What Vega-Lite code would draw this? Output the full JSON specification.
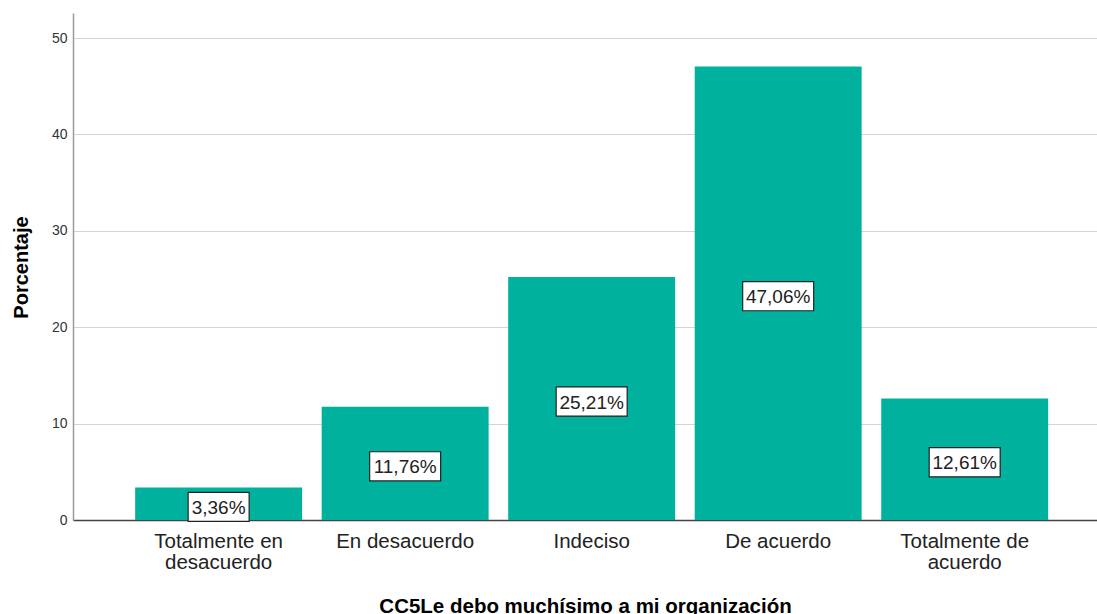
{
  "$schema": "https://vega.github.io/schema/vega-lite/v6.json",
  "width": 1024,
  "height": 507,
  "autosize": {"type": "none"},
  "padding": {"left": 73, "top": 13, "right": 0, "bottom": 94},
  "background": "white",
  "config": {
    "view": {"stroke": null},
    "font": "Liberation Sans"
  },
  "data": {
    "values": [
      {"cat": "Totalmente en desacuerdo", "pct": 3.36, "label": "3,36%"},
      {"cat": "En desacuerdo", "pct": 11.76, "label": "11,76%"},
      {"cat": "Indeciso", "pct": 25.21, "label": "25,21%"},
      {"cat": "De acuerdo", "pct": 47.06, "label": "47,06%"},
      {"cat": "Totalmente de acuerdo", "pct": 12.61, "label": "12,61%"}
    ]
  },
  "encoding": {
    "x": {
      "field": "cat",
      "type": "nominal",
      "sort": null,
      "scale": {"paddingInner": 0.105, "paddingOuter": 0.2976, "align": 0.56},
      "axis": {
        "title": "CC5Le debo muchísimo a mi organización",
        "titleFont": "Liberation Sans",
        "titleFontSize": 20.5,
        "titleFontWeight": "bold",
        "titleColor": "#000000",
        "titleBaseline": "alphabetic",
        "titleY": 92,
        "labelAngle": 0,
        "labelFontSize": 20.5,
        "labelColor": "#222222",
        "labelPadding": 11,
        "labelLineHeight": 21,
        "labelExpr": "datum.label == 'Totalmente en desacuerdo' ? ['Totalmente en','desacuerdo'] : datum.label == 'Totalmente de acuerdo' ? ['Totalmente de','acuerdo'] : datum.label",
        "ticks": false,
        "domainColor": "#444444",
        "domainWidth": 1.5,
        "grid": false
      }
    }
  },
  "layer": [
    {
      "mark": {"type": "bar", "color": "#00b29e"},
      "encoding": {
        "y": {
          "field": "pct",
          "type": "quantitative",
          "scale": {"domain": [0, 52.6], "nice": false},
          "axis": {
            "title": "Porcentaje",
            "titleFontSize": 20,
            "titleFontWeight": "bold",
            "titleColor": "#000000",
            "titleBaseline": "alphabetic",
            "titleX": -46,
            "titleY": 254,
            "values": [0, 10, 20, 30, 40, 50],
            "labelFontSize": 14,
            "labelColor": "#333333",
            "labelPadding": 6,
            "ticks": false,
            "domainColor": "#9a9a9a",
            "domainWidth": 1.5,
            "gridColor": "#d4d4d4",
            "gridWidth": 1.2
          }
        }
      }
    },
    {
      "transform": [{"calculate": "datum.pct / 2", "as": "mid"}],
      "mark": {"type": "point", "filled": true, "fill": "white", "stroke": "#222222", "strokeWidth": 1.2, "opacity": 1, "yOffset": 3},
      "encoding": {
        "y": {"field": "mid", "type": "quantitative"},
        "shape": {
          "condition": {"test": "length(datum.label) > 5", "value": "M-1,-0.41H1V0.41H-1Z"},
          "value": "M-1,-0.475H1V0.475H-1Z"
        },
        "size": {
          "condition": {"test": "length(datum.label) > 5", "value": 5041},
          "value": 3721
        }
      }
    },
    {
      "transform": [{"calculate": "datum.pct / 2", "as": "mid"}],
      "mark": {"type": "text", "fontSize": 19, "color": "#222222", "baseline": "middle", "yOffset": 4},
      "encoding": {
        "y": {"field": "mid", "type": "quantitative"},
        "text": {"field": "label"}
      }
    }
  ]
}
